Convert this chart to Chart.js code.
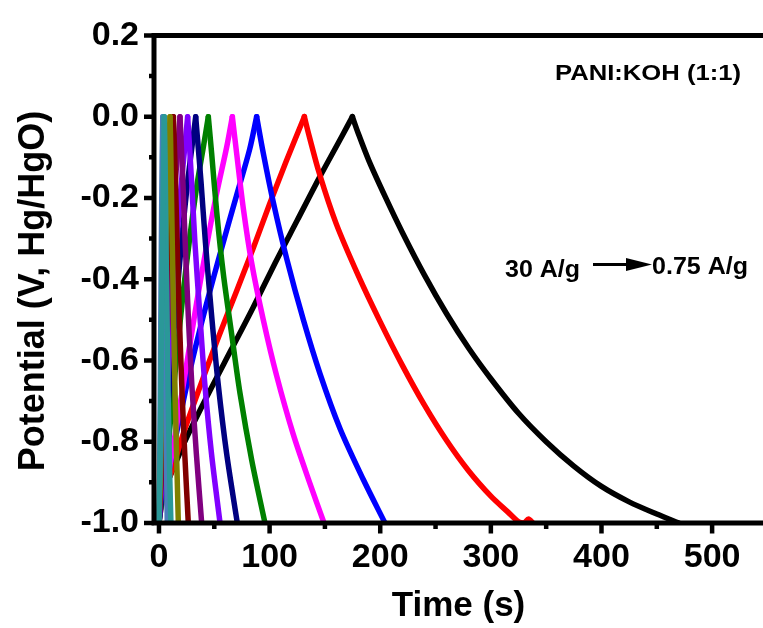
<!DOCTYPE html>
<html>
<head>
<meta charset="utf-8">
<script src="https://cdn.jsdelivr.net/npm/chart.js@4.4.1/dist/chart.umd.min.js"></script>
<style>
  body { margin: 0; background: #fff; }
  canvas { display: block; }
</style>
</head>
<body>
<canvas id="chart" width="763" height="628"></canvas>
<script>
// ---- data ----
const currents = ["30 A/g", "20 A/g", "15 A/g", "10 A/g", "8 A/g", "6 A/g", "5 A/g", "4 A/g", "3 A/g", "2 A/g", "1 A/g", "0.75 A/g"];

const t30 = [0, 0.3, 1, 2, 3, 4, 4.8, 5.5, 6.3, 7.3, 8.4, 9.6, 10.8];
const v30 = [-1.0, -0.93, -0.85, -0.6, -0.35, -0.15, 0, -0.1, -0.3, -0.5, -0.7, -0.87, -1.0];

const t20 = [0, 0.3, 0.8, 1.5, 2.2, 2.9, 3.5, 4.0, 4.8, 5.7, 6.6, 7.5];
const v20 = [-1.0, -0.95, -0.8, -0.55, -0.3, -0.1, 0, -0.1, -0.3, -0.55, -0.8, -1.0];

// the short curves share roughly the same shape
const vShort = [-1.0, -0.96, -0.90, -0.74, -0.58, -0.43, -0.29, -0.17, -0.07, 0, -0.06, -0.16, -0.31, -0.49, -0.66, -0.83, -1.0];
const t15 = [0, 0.4, 1.1, 2.3, 3.7, 5.1, 6.4, 7.7, 9, 10, 10.5, 11.1, 12, 13.2, 14.4, 15.9, 17.5];
const t10 = [0, 0.5, 1.5, 3, 4.8, 6.6, 8.3, 10, 11.8, 13, 13.8, 14.9, 16.4, 18.4, 20.6, 23.3, 26.5];
const t8  = [0, 0.8, 2.2, 4.4, 7, 9.6, 12.1, 14.6, 17.2, 19, 20, 21.6, 23.7, 26.5, 29.7, 33.8, 38.6];
const t6  = [0, 1, 3, 6, 9.5, 13, 16.5, 20, 23.5, 25.9, 27.3, 29.5, 32.5, 37, 41.5, 47.5, 55.2];
const t5  = [0, 1.5, 4, 7.5, 12, 16.5, 21, 25.5, 30, 33.2, 35, 38, 42, 47.6, 53.6, 61.2, 70.8];

const t4 = [0, 2, 5.4, 10, 16, 22, 28, 34.1, 40.1, 44.6, 47.6, 52.2, 58.1, 65.7, 73.2, 83.8, 95.8];
const v4 = [-1.0, -0.96, -0.903, -0.76, -0.59, -0.43, -0.294, -0.172, -0.075, 0, -0.09, -0.235, -0.385, -0.535, -0.68, -0.845, -1.0];

const t3 = [0, 1.5, 3.6, 9.6, 17.5, 25, 34.1, 43.1, 52.2, 61.2, 66.3, 70.2, 76.2, 83.8, 94.3, 106.4, 121.4, 136.5, 149.2];
const v3 = [-1.0, -0.97, -0.945, -0.862, -0.735, -0.61, -0.457, -0.318, -0.188, -0.075, 0, -0.09, -0.225, -0.36, -0.5, -0.638, -0.782, -0.903, -1.0];

const t2 = [0, 2, 5, 13, 22, 31, 43, 57, 70, 82, 88.3, 94.3, 103.3, 115.5, 130.5, 145.6, 163.7, 184.7, 204.3];
const v2 = [-1.0, -0.95, -0.925, -0.815, -0.70, -0.59, -0.46, -0.32, -0.195, -0.08, 0, -0.09, -0.21, -0.35, -0.50, -0.633, -0.768, -0.893, -1.0];

const t1 = [0, 2, 6, 13, 22, 37, 52, 70, 85, 100, 115, 131.4, 136, 145, 160, 180, 200, 220, 240, 260, 280, 300, 315, 325, 330, 334, 338];
const v1 = [-1.0, -0.95, -0.915, -0.86, -0.78, -0.665, -0.555, -0.43, -0.325, -0.215, -0.11, 0, -0.05, -0.14, -0.262, -0.39, -0.505, -0.612, -0.71, -0.797, -0.872, -0.934, -0.972, -0.997, -1.0, -0.99, -1.0];

const t075 = [0, 1, 3, 10, 25, 45, 65, 85, 105, 125, 145, 165, 174.8, 180, 190, 205, 220, 240, 260, 280, 300, 325, 350, 375, 400, 425, 450, 470];
const v075 = [-1.0, -0.96, -0.93, -0.885, -0.79, -0.68, -0.575, -0.47, -0.36, -0.255, -0.15, -0.05, 0, -0.04, -0.11, -0.2, -0.285, -0.39, -0.485, -0.57, -0.645, -0.73, -0.80, -0.86, -0.91, -0.948, -0.978, -1.0];

const times = [t30, t20, t15, t10, t8, t6, t5, t4, t3, t2, t1, t075];
const potentials = [v30, v20, vShort, vShort, vShort, vShort, vShort, v4, v3, v2, v1, v075];

const xTicks = [0, 100, 200, 300, 400, 500];
const yTicks = [-1.0, -0.8, -0.6, -0.4, -0.2, 0.0, 0.2];

const colors = ["#2a9898", "#4a7ebb", "#808000", "#800000", "#800080", "#8000ff", "#000080", "#008000", "#ff00ff", "#0000ff", "#ff0000", "#000000"];

const FONT = "'Liberation Sans', Arial, sans-serif";

// each curve is split at its peak into a charge and a discharge branch,
// so the apex stays sharp while the branches are smoothed.
// first dataset is drawn on top
const datasets = [];
currents.forEach((c, i) => {
  const pts = times[i].map((t, k) => ({ x: t, y: potentials[i][k] }));
  const peak = potentials[i].indexOf(0);
  [pts.slice(0, peak + 1), pts.slice(peak)].forEach((branch, b) => {
    datasets.push({
      label: c + (b ? " discharge" : " charge"),
      data: branch,
      borderColor: colors[i],
      borderWidth: 5.5,
      pointRadius: 0,
      tension: 0.3,
      borderJoinStyle: "round",
      borderCapStyle: "round",
      fill: false
    });
  });
});

// axis frame, minor ticks, y title and the two labels
const framePlugin = {
  id: "frame",
  afterDraw(chart) {
    const { ctx, chartArea: a, scales: { x, y } } = chart;
    ctx.save();
    ctx.strokeStyle = "#000";
    ctx.lineWidth = 5;
    ctx.lineCap = "butt";
    ctx.beginPath();
    ctx.moveTo(a.left, a.top - 2.5); ctx.lineTo(a.left, a.bottom + 2.5);
    ctx.moveTo(a.left, a.bottom); ctx.lineTo(a.right, a.bottom);
    ctx.moveTo(a.left, a.top); ctx.lineTo(a.right, a.top);
    ctx.stroke();

    ctx.lineWidth = 4.5;
    ctx.beginPath();
    for (let i = 0; i <= 12; i++) {
      const py = y.getPixelForValue(-1 + i * 0.1);
      const len = i % 2 === 0 ? 10 : 5;
      ctx.moveTo(a.left - len, py); ctx.lineTo(a.left, py);
    }
    for (let v = 0; v <= 550; v += 50) {
      const px = x.getPixelForValue(v);
      if (px > a.right) continue;
      const len = v % 100 === 0 ? 10.5 : 6;
      ctx.moveTo(px, a.bottom); ctx.lineTo(px, a.bottom + len);
    }
    ctx.stroke();

    ctx.fillStyle = "#000";

    // y axis title
    ctx.save();
    ctx.translate(34, 291);
    ctx.rotate(-Math.PI / 2);
    ctx.textAlign = "center";
    ctx.textBaseline = "middle";
    ctx.font = `bold 36px ${FONT}`;
    ctx.fillText("Potential (V, Hg/HgO)", 0, 0);
    ctx.restore();

    ctx.textAlign = "left";
    ctx.textBaseline = "alphabetic";
    const fitText = (str, px, base, size, width) => {
      ctx.font = `bold ${size}px ${FONT}`;
      const w = ctx.measureText(str).width;
      ctx.save();
      ctx.translate(px, base);
      ctx.scale(width / w, 1);
      ctx.fillText(str, 0, 0);
      ctx.restore();
    };
    fitText("PANI:KOH (1:1)", 555, 80, 22, 186);
    fitText("30 A/g", 505, 277, 23.5, 75);
    fitText("0.75 A/g", 652, 273.5, 23.5, 96);

    // arrow
    ctx.lineWidth = 3;
    ctx.beginPath();
    ctx.moveTo(593, 264.5); ctx.lineTo(630, 264.5);
    ctx.stroke();
    ctx.beginPath();
    ctx.moveTo(626, 258); ctx.lineTo(652, 264.5); ctx.lineTo(626, 271);
    ctx.closePath();
    ctx.fill();
    ctx.restore();
  }
};

new Chart(document.getElementById("chart"), {
  type: "line",
  data: { datasets },
  options: {
    responsive: false,
    animation: false,
    devicePixelRatio: 1,
    layout: { padding: { top: 30, right: 0, bottom: 0, left: 0 } },
    plugins: { legend: { display: false }, tooltip: { enabled: false } },
    scales: {
      x: {
        type: "linear",
        min: -4.5,
        max: 546,
        grid: { display: false, drawTicks: false },
        border: { display: false },
        afterBuildTicks: s => { s.ticks = xTicks.map(v => ({ value: v })); },
        afterFit: s => { s.height = 105; },
        ticks: {
          color: "#000",
          padding: 14,
          maxRotation: 0,
          autoSkip: false,
          font: { family: FONT, size: 34, weight: "bold" },
          callback: v => String(v)
        },
        title: {
          display: true,
          text: "Time (s)",
          color: "#000",
          padding: { top: 0, bottom: 1 },
          font: { family: FONT, size: 35, weight: "bold" }
        }
      },
      y: {
        type: "linear",
        min: -1.0,
        max: 0.2,
        grid: { display: false, drawTicks: false },
        border: { display: false },
        afterBuildTicks: s => { s.ticks = yTicks.map(v => ({ value: v })); },
        afterFit: s => { s.width = 154; },
        ticks: {
          color: "#000",
          padding: 15,
          autoSkip: false,
          font: { family: FONT, size: 34, weight: "bold" },
          callback: v => v.toFixed(1)
        }
      }
    }
  },
  plugins: [framePlugin]
});
</script>
</body>
</html>
